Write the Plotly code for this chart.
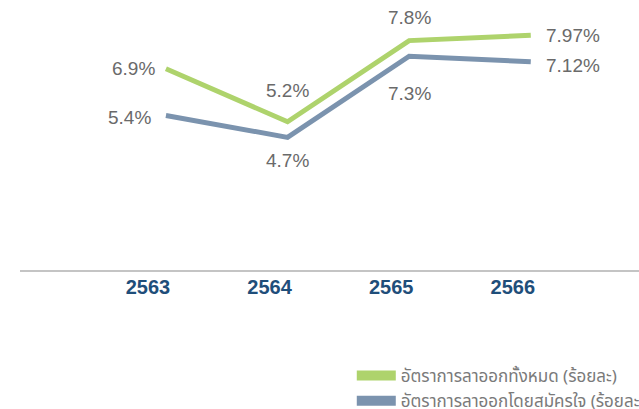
import plotly.graph_objects as go

years = ["2563", "2564", "2565", "2566"]
total_rate = [6.9, 5.2, 7.8, 7.97]
voluntary_rate = [5.4, 4.7, 7.3, 7.12]
total_labels = ["6.9%", "5.2%", "7.8%", "7.97%"]
voluntary_labels = ["5.4%", "4.7%", "7.3%", "7.12%"]
series_names = ["อัตราการลาออกทั้งหมด (ร้อยละ)", "อัตราการลาออกโดยสมัครใจ (ร้อยละ)"]

GREEN = "#AED36C"
BLUE = "#7B93AE"
LABEL_COLOR = "#6a6a6a"
NUM_FONT = "Liberation Sans, Arial, sans-serif"
THAI_FONT = "Noto Sans Thai, Noto Sans Thai Looped, Loma, Garuda, Noto Sans, sans-serif"

xs = list(range(len(years)))

fig = go.Figure()
fig.add_trace(go.Scatter(x=xs, y=total_rate, mode="lines", line=dict(color=GREEN, width=5),
                         showlegend=False, hoverinfo="skip"))
fig.add_trace(go.Scatter(x=xs, y=voluntary_rate, mode="lines", line=dict(color=BLUE, width=5),
                         showlegend=False, hoverinfo="skip"))
# legend entries
fig.add_trace(go.Scatter(x=[None], y=[None], mode="lines", line=dict(color=GREEN, width=10),
                         name=series_names[0]))
fig.add_trace(go.Scatter(x=[None], y=[None], mode="lines", line=dict(color=BLUE, width=10),
                         name=series_names[1]))

# label placement styles (anchor, xshift, yshift)
total_style = [("right", "middle", -9, 0), ("center", "middle", 0, 31),
               ("center", "middle", 0, 23), ("left", "middle", 13, 0)]
vol_style = [("right", "middle", -13, -2), ("center", "middle", 0, -23),
             ("center", "middle", 0, -37), ("left", "middle", 13, -4)]

for vals, labs, styles in [(total_rate, total_labels, total_style),
                           (voluntary_rate, voluntary_labels, vol_style)]:
    for i, (v, t, s) in enumerate(zip(vals, labs, styles)):
        fig.add_annotation(x=xs[i], y=v, text=t, showarrow=False,
                           xanchor=s[0], yanchor=s[1], xshift=s[2], yshift=s[3],
                           font=dict(family=NUM_FONT, size=19, color=LABEL_COLOR))

fig.update_layout(
    width=639, height=409,
    margin=dict(l=20, r=0, t=20, b=139, autoexpand=False),
    paper_bgcolor="white", plot_bgcolor="white",
    xaxis=dict(range=[-1.2, 3.89], tickvals=xs, ticktext=years, showgrid=False,
               zeroline=False, showline=True, linecolor="#c4c4c4", linewidth=1.5,
               ticks="", ticklabelshift=-18, ticklabelstandoff=-2,
               tickfont=dict(family=NUM_FONT, size=20, color="#1F4E7A", weight="bold")),
    yaxis=dict(range=[0.45, 8.46], visible=False, showgrid=False, zeroline=False),
    legend=dict(x=0.536, y=-0.352, xanchor="left", yanchor="top",
                font=dict(family=THAI_FONT, size=17, color="#7a7a7a"),
                tracegroupgap=0, itemwidth=39, bgcolor="rgba(0,0,0,0)"),
    showlegend=True,
)

fig.write_html("out.html", config={"displayModeBar": False},
               post_script="document.body.style.margin='0';document.body.style.overflow='hidden';")
